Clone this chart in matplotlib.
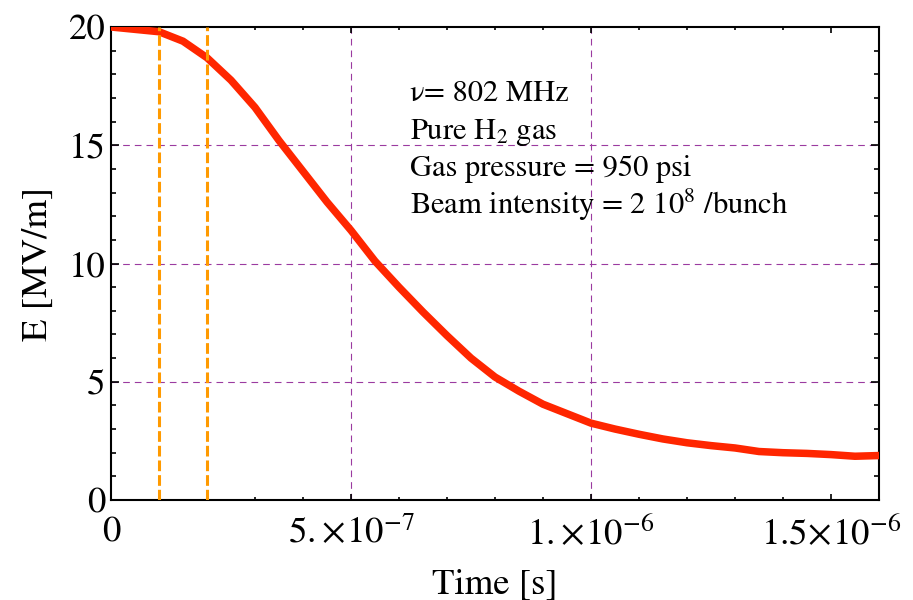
import numpy as np
import matplotlib
matplotlib.use("Agg")
import matplotlib.pyplot as plt
from matplotlib.ticker import MultipleLocator, FixedLocator, FixedFormatter

plt.rcParams['font.family'] = 'STIXGeneral'
plt.rcParams['mathtext.fontset'] = 'stix'

# Field decay in the cavity (time in s, E in MV/m)
time = np.array([0.0, 0.5, 1.0, 1.5, 2.0, 2.5, 3.0, 3.5, 4.0, 4.5, 5.0, 5.5,
                 6.0, 6.5, 7.0, 7.5, 8.0, 8.5, 9.0, 9.5, 10.0, 10.5, 11.0,
                 11.5, 12.0, 12.5, 13.0, 13.5, 14.0, 14.5, 15.0, 15.5, 16.0]) * 1e-7
field = np.array([20.0, 19.9, 19.8, 19.4, 18.7, 17.75, 16.6, 15.2, 13.9, 12.6,
                  11.4, 10.1, 9.0, 7.95, 6.95, 6.0, 5.2, 4.6, 4.05, 3.65, 3.25,
                  3.0, 2.78, 2.58, 2.42, 2.3, 2.2, 2.05, 2.0, 1.97, 1.92, 1.85, 1.88])

# beam window markers
markers = [1e-7, 2e-7]
grid_x = [5e-7, 1e-6]
grid_y = [5, 10, 15]

xticks = [0, 5e-7, 1e-6, 1.5e-6]
xlabels = ['0', r'$5.\!\times\!10^{-7}$', r'$1.\!\times\!10^{-6}$', r'$1.5\!\times\!10^{-6}$']
yticks = [0, 5, 10, 15, 20]

info = ['ν= 802 MHz',
        r'Pure H$_\mathrm{2}$ gas',
        'Gas pressure = 950 psi',
        r'Beam intensity = 2 10$^\mathrm{8}$ /bunch']

fig = plt.figure(figsize=(9.13, 6.0), dpi=100)
ax = fig.add_axes([111/913, 100/600, 768/913, 473/600])

purple = '#9b3aa0'
for gx in grid_x:
    ax.axvline(gx, color=purple, lw=0.8, ls=(0, (6, 4.5)), zorder=1)
for gy in grid_y:
    ax.axhline(gy, color=purple, lw=0.8, ls=(0, (6, 4.5)), zorder=1)

ax.plot(time, field, color='#ff2600', lw=5.4, solid_joinstyle='miter', zorder=3)

for m in markers:
    ax.axvline(m, color='#ff9a00', lw=2.2, ls=(0, (3.5, 1.3)), zorder=4)

ax.set_xlim(0, 1.6e-6)
ax.set_ylim(0, 20)

ax.xaxis.set_major_locator(FixedLocator(xticks))
ax.xaxis.set_major_formatter(FixedFormatter(xlabels))
ax.xaxis.set_minor_locator(MultipleLocator(1e-7))
ax.yaxis.set_major_locator(FixedLocator(yticks))
ax.yaxis.set_minor_locator(MultipleLocator(1))

ax.tick_params(which='both', direction='in', top=True, right=True, width=1.2,
               labelsize=26.5)
ax.tick_params(axis='y', which='major', length=6, pad=4)
ax.tick_params(axis='y', which='minor', length=3.5)
ax.tick_params(axis='x', which='major', length=4, pad=11.5)
ax.tick_params(axis='x', which='minor', length=2.5)
for s in ax.spines.values():
    s.set_linewidth(1.5)

ax.set_xlabel('Time [s]', fontsize=26.5, labelpad=12)
ax.set_ylabel('E [MV/m]', fontsize=26.5, labelpad=10)

for i, line in enumerate(info):
    ax.text(410/913, (600 - 101 - 37.7 * i) / 600, line, transform=fig.transFigure,
            fontsize=22, ha='left', va='baseline', zorder=5)

fig.savefig('out.png', dpi=100)
